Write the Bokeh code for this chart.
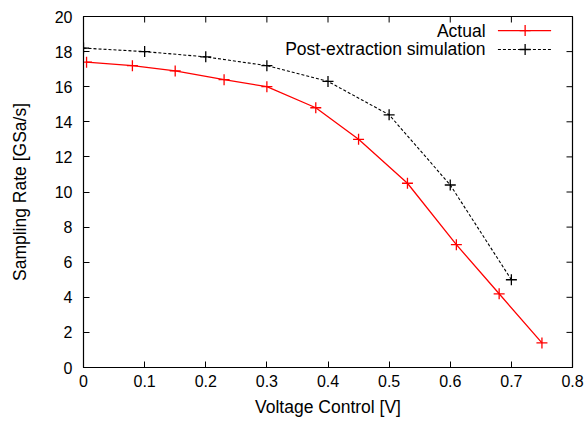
import math
from bokeh.plotting import figure
from bokeh.models import Range1d, FixedTicker
from bokeh.core.properties import value
from bokeh.embed import file_html
from bokeh.resources import INLINE

# data
actual_x = [0.005, 0.08, 0.15, 0.23, 0.30, 0.38, 0.45, 0.53, 0.61, 0.68, 0.75]
actual_y = [17.4, 17.2, 16.9, 16.4, 16.0, 14.8, 13.0, 10.5, 7.0, 4.2, 1.4]
sim_x = [0.0, 0.1, 0.2, 0.3, 0.4, 0.5, 0.6, 0.7]
sim_y = [18.2, 18.0, 17.7, 17.2, 16.3, 14.4, 10.4, 5.0]

x_ticks = [0.0, 0.1, 0.2, 0.3, 0.4, 0.5, 0.6, 0.7, 0.8]
x_tick_labels = ["0", "0.1", "0.2", "0.3", "0.4", "0.5", "0.6", "0.7", "0.8"]
y_ticks = [0, 2, 4, 6, 8, 10, 12, 14, 16, 18, 20]
y_tick_labels = ["0", "2", "4", "6", "8", "10", "12", "14", "16", "18", "20"]

series_names = ["Actual", "Post-extraction simulation"]
x_label = "Voltage Control [V]"
y_label = "Sampling Rate [GSa/s]"

FONT = "Liberation Sans"
RED = "#ff0000"
X_MIN, X_MAX = 0.0, 0.8
Y_MIN, Y_MAX = 0.0, 20.0

p = figure(width=587, height=421, output_backend="svg", toolbar_location=None,
           x_range=Range1d(X_MIN, X_MAX), y_range=Range1d(Y_MIN, Y_MAX),
           min_border_left=83, min_border_right=15, min_border_top=16, min_border_bottom=54)
p.background_fill_color = "white"
p.border_fill_color = "white"
p.outline_line_color = "black"
p.outline_line_width = 1.2
p.xgrid.visible = False
p.ygrid.visible = False

xt = FixedTicker(ticks=x_ticks)
yt = FixedTicker(ticks=y_ticks)
p.xaxis.ticker = xt
p.xaxis.major_label_overrides = {t: l for t, l in zip(x_ticks, x_tick_labels)}
p.yaxis.ticker = yt
p.yaxis.major_label_overrides = {t: l for t, l in zip(y_ticks, y_tick_labels)}

for ax in p.xaxis + p.yaxis:
    ax.major_tick_in = 6
    ax.major_tick_out = 0
    ax.minor_tick_line_color = None
    ax.axis_line_color = "black"
    ax.major_tick_line_color = "black"
    ax.major_label_text_font = FONT
    ax.major_label_text_font_size = "16px"
    ax.major_label_text_color = "black"
    ax.axis_label_text_font = FONT
    ax.axis_label_text_font_size = "17.5px"
    ax.axis_label_text_font_style = "normal"
    ax.axis_label_text_color = "black"

p.xaxis.major_label_standoff = 7
p.xaxis.axis_label = x_label
p.xaxis.axis_label_standoff = 7
p.yaxis.major_label_standoff = 11
p.yaxis.axis_label = y_label
p.yaxis.axis_label_standoff = 22

# mirror ticks on top and right (half of each dash is clipped by the frame)
p.scatter(x_ticks, [Y_MAX] * len(x_ticks), marker="dash", angle=math.pi / 2, size=12,
          line_color="black", line_width=1)
p.scatter([X_MAX] * len(y_ticks), y_ticks, marker="dash", size=12,
          line_color="black", line_width=1)

# series
p.line(sim_x, sim_y, line_color="black", line_width=1.1, line_dash="3 2")
p.scatter(sim_x, sim_y, marker="cross", size=11, line_color="black", line_width=1.3)
p.line(actual_x, actual_y, line_color=RED, line_width=1.3)
p.scatter(actual_x, actual_y, marker="cross", size=11, line_color=RED, line_width=1.3)

# legend (gnuplot style: text left, sample right)
leg_text_x = 0.6577
leg_x0, leg_x1, leg_xm = 0.678, 0.765, 0.7225
leg_rows = [19.2, 18.12]
p.text([leg_text_x, leg_text_x], leg_rows, text=series_names, text_align="right",
       text_baseline="middle", text_font=value(FONT), text_font_size="17.5px", text_color="black")
p.line([leg_x0, leg_x1], [leg_rows[0]] * 2, line_color=RED, line_width=1.3)
p.scatter([leg_xm], [leg_rows[0]], marker="cross", size=11, line_color=RED, line_width=1.3)
p.line([leg_x0, leg_x1], [leg_rows[1]] * 2, line_color="black", line_width=1.1, line_dash="3 2")
p.scatter([leg_xm], [leg_rows[1]], marker="cross", size=11, line_color="black", line_width=1.3)

open("out.html", "w").write(file_html(p, INLINE))
